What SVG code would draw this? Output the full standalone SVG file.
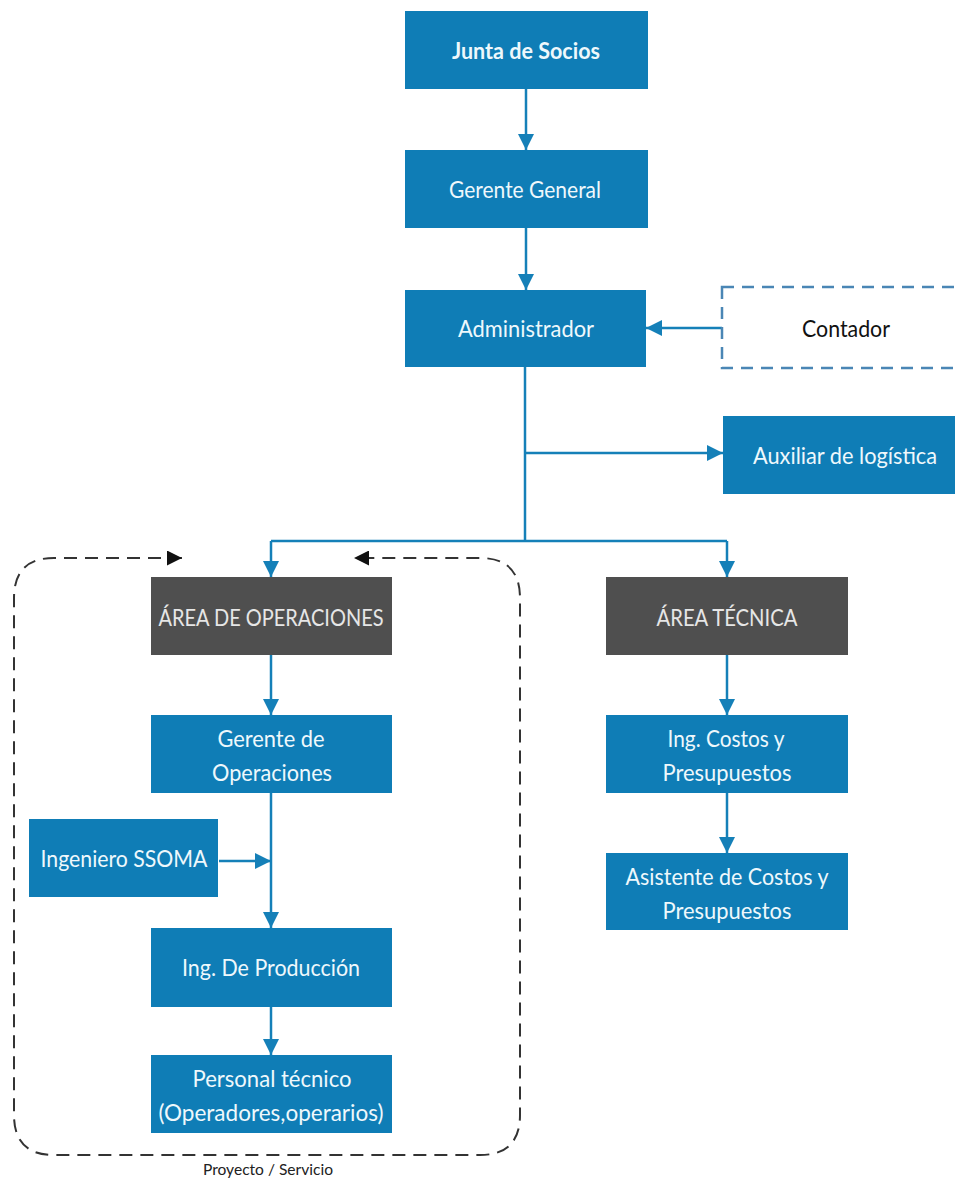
<svg xmlns="http://www.w3.org/2000/svg" width="955" height="1180" viewBox="0 0 955 1180">
<style>
.b{fill:#0F7DB6}
.g{fill:#4F4F4F}
.t{font-family:Lato,"Open Sans",sans-serif;font-size:23px;fill:#EEF8FC;text-anchor:middle}
.tg{font-family:Lato,"Open Sans",sans-serif;font-size:23px;fill:#E6E6E6;text-anchor:middle}
.c{stroke:#1580B8;stroke-width:2.5;fill:none}
.d{stroke:#333;stroke-width:2;fill:none;stroke-dasharray:13 8}
</style>
<defs>
<marker id="ah" viewBox="0 0 10 10" refX="10" refY="5" markerWidth="6.4" markerHeight="6.4" orient="auto" markerUnits="strokeWidth">
<path d="M0,0 L10,5 L0,10 z" fill="#1580B8"/>
</marker>
<marker id="ak" viewBox="0 0 10 10" refX="10" refY="5" markerWidth="7.5" markerHeight="7.5" orient="auto-start-reverse" markerUnits="strokeWidth">
<path d="M0,0 L10,5 L0,10 z" fill="#111"/>
</marker>
</defs>
<rect x="0" y="0" width="955" height="1180" fill="#fff"/>
<g id="connectors">
<path class="c" d="M526,89 V150" marker-end="url(#ah)"/>
<path class="c" d="M526,228 V290" marker-end="url(#ah)"/>
<path class="c" d="M722,328 H646" marker-end="url(#ah)"/>
<path class="c" d="M525,367 V541"/>
<path class="c" d="M525,453 H723" marker-end="url(#ah)"/>
<path class="c" d="M271,541 H727"/>
<path class="c" d="M271,541 V577" marker-end="url(#ah)"/>
<path class="c" d="M727,541 V577" marker-end="url(#ah)"/>
<path class="c" d="M271,655 V715" marker-end="url(#ah)"/>
<path class="c" d="M271,793 V928" marker-end="url(#ah)"/>
<path class="c" d="M219,861 H271" marker-end="url(#ah)"/>
<path class="c" d="M271,1007 V1055" marker-end="url(#ah)"/>
<path class="c" d="M727,655 V715" marker-end="url(#ah)"/>
<path class="c" d="M727,793 V853" marker-end="url(#ah)"/>
<path class="d" d="M182,558 H54 Q14,558 14,598 V1115 Q14,1155 54,1155 H480 Q520,1155 520,1115 V598 Q520,558 480,558 H354" marker-start="url(#ak)" marker-end="url(#ak)"/>
</g>
<g id="junta">
<rect class="b" x="405" y="11" width="243" height="78"/>
<text class="t" x="526" y="59" font-weight="bold" textLength="148" lengthAdjust="spacingAndGlyphs">Junta de Socios</text>
</g>
<g id="gerente">
<rect class="b" x="405" y="150" width="243" height="78"/>
<text class="t" x="525" y="198" textLength="152" lengthAdjust="spacingAndGlyphs">Gerente General</text>
</g>
<g id="administrador">
<rect class="b" x="405" y="290" width="241" height="77"/>
<text class="t" x="526" y="337" textLength="136" lengthAdjust="spacingAndGlyphs">Administrador</text>
</g>
<g id="contador">
<rect x="722" y="287" width="245" height="81" fill="#fff" stroke="#4A86B5" stroke-width="2.5" stroke-dasharray="12 8"/>
<text class="t" x="846" y="337" style="fill:#111" textLength="88" lengthAdjust="spacingAndGlyphs">Contador</text>
</g>
<g id="auxiliar">
<rect class="b" x="723" y="416" width="240" height="78"/>
<text class="t" x="845" y="464" textLength="184" lengthAdjust="spacingAndGlyphs">Auxiliar de logística</text>
</g>
<g id="area-operaciones">
<rect class="g" x="151" y="577" width="241" height="78"/>
<text class="tg" x="271" y="626" textLength="225" lengthAdjust="spacingAndGlyphs">ÁREA DE OPERACIONES</text>
</g>
<g id="area-tecnica">
<rect class="g" x="606" y="577" width="242" height="78"/>
<text class="tg" x="727" y="626" textLength="141" lengthAdjust="spacingAndGlyphs">ÁREA TÉCNICA</text>
</g>
<g id="gerente-operaciones">
<rect class="b" x="151" y="715" width="241" height="78"/>
<text class="t" x="271" y="747" textLength="107" lengthAdjust="spacingAndGlyphs">Gerente de</text>
<text class="t" x="272" y="781" textLength="120" lengthAdjust="spacingAndGlyphs">Operaciones</text>
</g>
<g id="ssoma">
<rect class="b" x="29" y="819" width="189" height="78"/>
<text class="t" x="124" y="867" textLength="167" lengthAdjust="spacingAndGlyphs">Ingeniero SSOMA</text>
</g>
<g id="ing-produccion">
<rect class="b" x="151" y="928" width="241" height="79"/>
<text class="t" x="271" y="976" textLength="178" lengthAdjust="spacingAndGlyphs">Ing. De Producción</text>
</g>
<g id="personal">
<rect class="b" x="151" y="1055" width="241" height="78"/>
<text class="t" x="272" y="1087" textLength="159" lengthAdjust="spacingAndGlyphs">Personal técnico</text>
<text class="t" x="271" y="1121" textLength="225" lengthAdjust="spacingAndGlyphs">(Operadores,operarios)</text>
</g>
<g id="ing-costos">
<rect class="b" x="606" y="715" width="242" height="78"/>
<text class="t" x="726" y="747" textLength="117" lengthAdjust="spacingAndGlyphs">Ing. Costos y</text>
<text class="t" x="727" y="781" textLength="129" lengthAdjust="spacingAndGlyphs">Presupuestos</text>
</g>
<g id="asistente">
<rect class="b" x="606" y="853" width="242" height="77"/>
<text class="t" x="727" y="885" textLength="203" lengthAdjust="spacingAndGlyphs">Asistente de Costos y</text>
<text class="t" x="727" y="919" textLength="129" lengthAdjust="spacingAndGlyphs">Presupuestos</text>
</g>
<g id="label">
<text x="268" y="1175" font-family="Lato,'Open Sans',sans-serif" font-size="16" fill="#222" text-anchor="middle" textLength="130" lengthAdjust="spacingAndGlyphs">Proyecto / Servicio</text>
</g>
</svg>
